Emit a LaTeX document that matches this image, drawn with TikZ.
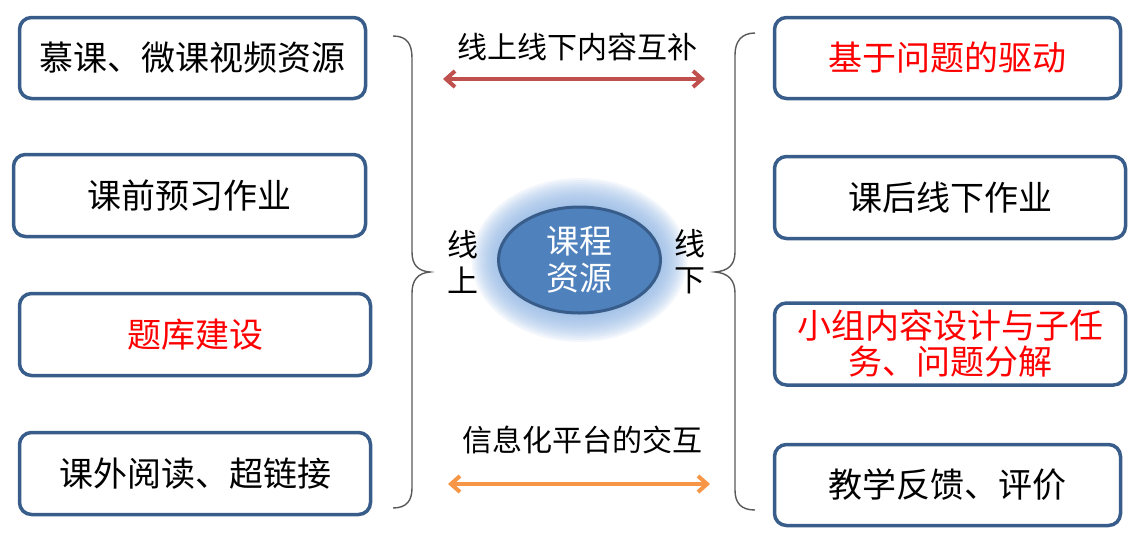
\documentclass[tikz,border=0pt]{standalone}
\usepackage{fontspec}
\newfontfamily\cjk{Noto Sans CJK SC}
\usepackage{tikz}
\usetikzlibrary{positioning,shapes.geometric,arrows.meta}
\definecolor{boxblue}{HTML}{385D8A}
\definecolor{coreblue}{HTML}{4F81BD}
\definecolor{glowblue}{HTML}{8DB3E2}
\definecolor{arrowred}{HTML}{C0504D}
\definecolor{arroworange}{HTML}{F79646}

\begin{document}
\begin{tikzpicture}[x=1pt,y=-1pt,
    box/.style={draw=boxblue,line width=3.5pt,rounded corners=12pt,fill=white,
        align=center,font=\cjk\fontsize{34}{36}\selectfont,inner sep=0pt},
    label/.style={font=\cjk\fontsize{30}{36}\selectfont,align=center,inner sep=0pt},
    bracket/.style={black!65,line width=1.4pt},
    link/.style={line width=4pt,{Straight Barb[length=9pt,width=16pt]}-{Straight Barb[length=9pt,width=16pt]}}]
    \useasboundingbox (0,0) rectangle (1146,542);
    % left column: online
    \node[box,minimum width=346,minimum height=81] (mooc) at (192.5,58) {慕课、微课视频资源};
    \node[box,minimum width=352,minimum height=82] (prep) at (189.5,195.5) {课前预习作业};
    \node[box,minimum width=351,minimum height=82,text=red] (bank) at (195,334.5) {题库建设};
    \node[box,minimum width=351,minimum height=82] (read) at (195,473.5) {课外阅读、超链接};
    % right column: offline
    \node[box,minimum width=346,minimum height=81,text=red] (drive) at (947.5,58) {基于问题的驱动};
    \node[box,minimum width=351,minimum height=82] (homework) at (950,197.5) {课后线下作业};
    \node[box,minimum width=351,minimum height=82,text=red] (group) at (950,344) {小组内容设计与子任\\务、问题分解};
    \node[box,minimum width=346,minimum height=81] (feedback) at (947.5,485) {教学反馈、评价};
    % glow behind the core
    \foreach \r in {1,...,14} {
        \fill[glowblue,opacity=0.1] (579.5,260) ellipse ({82+28-2*\r} and {54+30-2*\r});
    }
    \node[ellipse,draw=boxblue,line width=3pt,fill=coreblue,minimum width=162,minimum height=106,
        text=white,align=center,font=\cjk\fontsize{33}{37}\selectfont,inner sep=0pt] (core) at (579.5,260) {课程\\资源};
    \node[label,font=\cjk\fontsize{31}{36}\selectfont] (online) at (463,262) {线\\上};
    \node[label,font=\cjk\fontsize{31}{36}\selectfont] (offline) at (690,262) {线\\下};
    % braces
    \draw[bracket] (393,36) .. controls (407,36) and (412,44) .. (412,58) -- (412,252)
        .. controls (412,265) and (418,271) .. (430,272) .. controls (418,273) and (412,280) .. (412,293)
        -- (412,488) .. controls (412,500) and (407,508) .. (393,508);
    \draw[bracket] (755,33) .. controls (741,33) and (735,42) .. (735,55) -- (735,252)
        .. controls (735,265) and (728,271) .. (715,272) .. controls (728,273) and (735,280) .. (735,293)
        -- (735,490) .. controls (735,503) and (741,510) .. (755,510);
    % arrows
    \node[label] (mix) at (577,47) {线上线下内容互补};
    \coordinate (mixl) at (443,79);
    \coordinate (mixr) at (705,79);
    \draw[link,arrowred] (mixl) -- (mixr);
    \node[label] (platform) at (582,440) {信息化平台的交互};
    \coordinate (platl) at (448,484);
    \coordinate (platr) at (710,484);
    \draw[link,arroworange] (platl) -- (platr);
\end{tikzpicture}
\end{document}
